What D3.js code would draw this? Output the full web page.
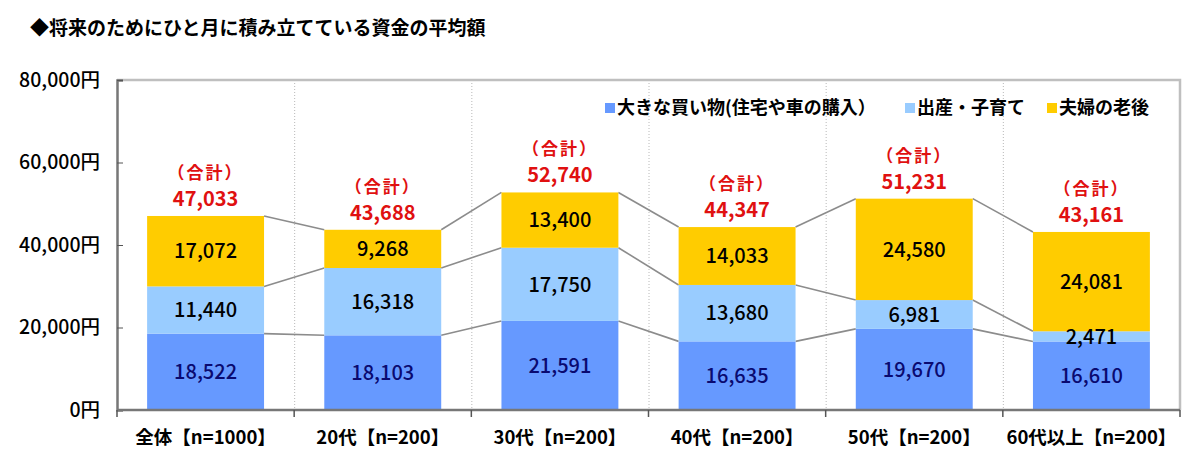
<!DOCTYPE html>
<html>
<head>
<meta charset="utf-8">
<script src="https://cdn.jsdelivr.net/npm/d3@7"></script>
<style>
  body { margin: 0; background: #fff; }
  text { font-family: "Noto Sans CJK JP", "Noto Sans", sans-serif; }
</style>
</head>
<body>
<div id="chart"></div>
<script>
const svgWidth = 1200;
const svgHeight = 461;

// data
const categories = ["全体【n=1000】", "20代【n=200】", "30代【n=200】", "40代【n=200】", "50代【n=200】", "60代以上【n=200】"];
const bigPurchase = [18522, 18103, 21591, 16635, 19670, 16610];
const childcare = [11440, 16318, 17750, 13680, 6981, 2471];
const retirement = [17072, 9268, 13400, 14033, 24580, 24081];
const totals = [47033, 43688, 52740, 44347, 51231, 43161];
const seriesNames = ["大きな買い物(住宅や車の購入）", "出産・子育て", "夫婦の老後"];
const yTicks = [0, 20000, 40000, 60000, 80000];

const colors = ["#6699FF", "#99CCFF", "#FFCC00"];
const labelColors = ["#0A0A70", "#000", "#000"];

const margin = { top: 80, right: 20, bottom: 51, left: 117 };
const width = svgWidth - margin.left - margin.right;
const height = svgHeight - margin.top - margin.bottom;

const svg = d3.select("#chart")
  .append("svg")
  .attr("width", svgWidth)
  .attr("height", svgHeight);

// title
svg.append("text")
  .attr("x", 30)
  .attr("y", 35)
  .attr("font-size", 19)
  .attr("font-weight", "bold")
  .text("◆将来のためにひと月に積み立てている資金の平均額");

const chartGroup = svg.append("g")
  .attr("transform", `translate(${margin.left}, ${margin.top})`);

const x = d3.scaleBand().domain(categories).range([0, width]).padding(0);
const y = d3.scaleLinear().domain([0, 80000]).range([height, 0]);
const barW = x.bandwidth() * 0.66;
const barX = c => x(c) + (x.bandwidth() - barW) / 2;

// stack rows
const rows = categories.map((c, i) => ({
  cat: c, big: bigPurchase[i], child: childcare[i], retire: retirement[i]
}));
const stack = d3.stack().keys(["big", "child", "retire"])(rows);

// dotted vertical separators
chartGroup.selectAll(".sep")
  .data(categories.slice(1))
  .enter()
  .append("line")
  .attr("x1", d => x(d) + 0.5)
  .attr("x2", d => x(d) + 0.5)
  .attr("y1", 0)
  .attr("y2", height)
  .attr("stroke", "#b8b8b8")
  .attr("stroke-width", 1)
  .attr("stroke-dasharray", "1,2");

// top and right frame
chartGroup.append("path")
  .attr("d", `M0,0H${width}V${height}`)
  .attr("fill", "none")
  .attr("stroke", "#bfbfbf")
  .attr("stroke-width", 2.5);

// connector lines between stacks
stack.forEach(layer => {
  for (let i = 0; i < categories.length - 1; i++) {
    chartGroup.append("line")
      .attr("x1", barX(categories[i]) + barW)
      .attr("y1", y(layer[i][1]))
      .attr("x2", barX(categories[i + 1]))
      .attr("y2", y(layer[i + 1][1]))
      .attr("stroke", "#8c8c8c")
      .attr("stroke-width", 1.6);
  }
});

// bars
stack.forEach((layer, k) => {
  chartGroup.append("g")
    .selectAll("rect")
    .data(layer)
    .enter()
    .append("rect")
    .attr("x", d => barX(d.data.cat))
    .attr("y", d => y(d[1]))
    .attr("width", barW)
    .attr("height", d => y(d[0]) - y(d[1]))
    .attr("fill", colors[k]);
});

// value labels in bars
stack.forEach((layer, k) => {
  chartGroup.append("g")
    .selectAll("text")
    .data(layer)
    .enter()
    .append("text")
    .attr("x", d => x(d.data.cat) + x.bandwidth() / 2)
    .attr("y", d => y((d[0] + d[1]) / 2))
    .attr("dy", "0.36em")
    .attr("text-anchor", "middle")
    .attr("font-size", 20)
    .attr("font-weight", 500)
    .attr("fill", labelColors[k])
    .text(d => d3.format(",")(d[1] - d[0]));
});

// totals
const totalG = chartGroup.append("g")
  .selectAll("g")
  .data(categories)
  .enter()
  .append("g")
  .attr("transform", (c, i) => `translate(${x(c) + x.bandwidth() / 2}, ${y(stack[2][i][1])})`);

totalG.append("text")
  .attr("y", -37)
  .attr("text-anchor", "middle")
  .attr("font-size", 17)
  .attr("font-weight", "bold")
  .attr("letter-spacing", 2)
  .attr("fill", "#e01010")
  .text("（合計）");

totalG.append("text")
  .attr("y", -10)
  .attr("text-anchor", "middle")
  .attr("font-size", 20)
  .attr("font-weight", "bold")
  .attr("fill", "#e01010")
  .text((c, i) => d3.format(",")(totals[i]));

// y axis
const yAxis = chartGroup.append("g")
  .call(d3.axisLeft(y).tickValues(yTicks).tickSize(-6).tickPadding(17)
    .tickFormat(d => d3.format(",")(d) + "円"));
yAxis.select(".domain").attr("stroke", "#777").attr("stroke-width", 2.5);
yAxis.selectAll(".tick line").attr("stroke", "#555");
yAxis.selectAll(".tick text")
  .attr("font-size", 19.5)
  .attr("font-weight", 500)
  .attr("fill", "#000")
  .style("font-family", "'Noto Sans CJK JP', sans-serif");

// x axis: ticks at category boundaries
const xAxisG = chartGroup.append("g")
  .attr("transform", `translate(0, ${height})`);
xAxisG.append("line")
  .attr("x1", 0).attr("x2", width)
  .attr("stroke", "#777").attr("stroke-width", 2.5);
xAxisG.selectAll(".xtick")
  .data(categories.concat([null]))
  .enter()
  .append("line")
  .attr("x1", (c, i) => i * x.step())
  .attr("x2", (c, i) => i * x.step())
  .attr("y1", 0).attr("y2", 7)
  .attr("stroke", "#555").attr("stroke-width", 1.5);
xAxisG.selectAll(".xlab")
  .data(categories)
  .enter()
  .append("text")
  .attr("x", c => x(c) + x.bandwidth() / 2)
  .attr("y", 34)
  .attr("text-anchor", "middle")
  .attr("font-size", 18.5)
  .attr("font-weight", "bold")
  .text(c => c);

// legend
const legendX = [605, 905, 1047];
const legend = svg.append("g")
  .selectAll("g")
  .data(seriesNames)
  .enter()
  .append("g")
  .attr("transform", (d, i) => `translate(${legendX[i]}, 108)`);
legend.append("rect")
  .attr("x", 0).attr("y", -5)
  .attr("width", 10).attr("height", 10)
  .attr("fill", (d, i) => colors[i]);
legend.append("text")
  .attr("x", 12)
  .attr("dy", "0.36em")
  .attr("font-size", 18)
  .attr("font-weight", "bold")
  .text(d => d);
</script>
</body>
</html>
